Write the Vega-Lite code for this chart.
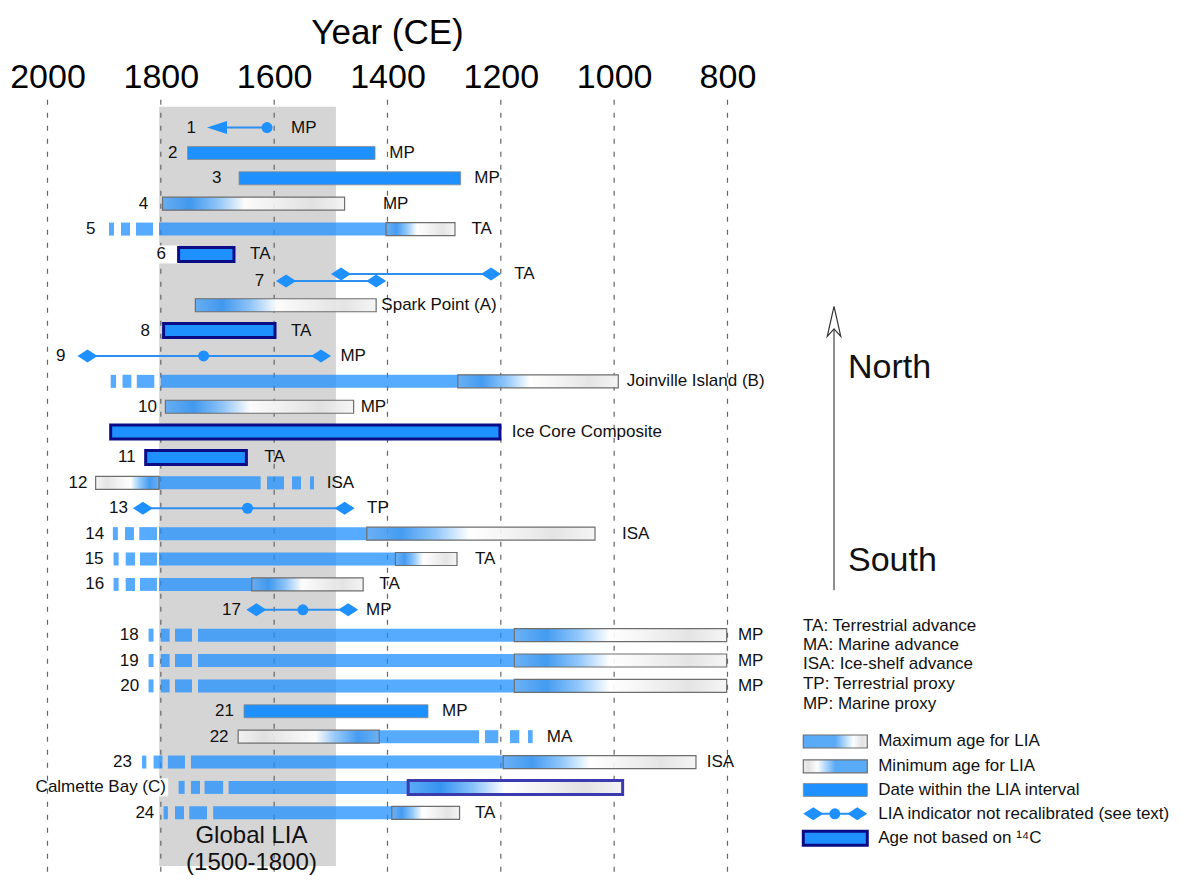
{
  "$schema": "https://vega.github.io/schema/vega-lite/v6.json",
  "width": 1182,
  "height": 882,
  "autosize": "none",
  "padding": 0,
  "background": "white",
  "config": {
    "view": {"stroke": null},
    "font": "Liberation Sans",
    "text": {"font": "Liberation Sans", "color": "#111111"}
  },
  "datasets": {
    "lia": [{"x1": 1803, "x2": 1491, "r": -0.82, "r2": 29.1, "label": "Global LIA (1500-1800)"}],
    "grid": [
      {"x1": 2000, "r": -1.1, "r2": 29.35}, {"x1": 1800, "r": -1.1, "r2": 29.35}, {"x1": 1600, "r": -1.1, "r2": 29.35},
      {"x1": 1400, "r": -1.1, "r2": 29.35}, {"x1": 1200, "r": -1.1, "r2": 29.35}, {"x1": 1000, "r": -1.1, "r2": 29.35},
      {"x1": 800, "r": -1.1, "r2": 29.35}
    ],
    "compass": [{"x1": 612, "r": 7.95, "r2": 18.23, "head": 7.64}],
    "labelbg": [{"r": 5, "x1": 1805, "x2": 1768}, {"r": 26, "x1": 1803, "x2": 1787}],
    "segs": [
      {"kind": "date", "r": 1, "x1": 1752.9, "x2": 1422},
      {"kind": "date", "r": 2, "x1": 1662, "x2": 1270.8},
      {"kind": "max", "r": 3, "x1": 1797, "x2": 1475.7},
      {"kind": "light", "r": 4, "x1": 1891.4, "x2": 1882.6},
      {"kind": "light", "r": 4, "x1": 1870.3, "x2": 1854.4},
      {"kind": "light", "r": 4, "x1": 1843.8, "x2": 1813.8},
      {"kind": "light", "r": 4, "x1": 1803.2, "x2": 1402.6},
      {"kind": "max", "r": 4, "x1": 1402.6, "x2": 1280.9},
      {"kind": "navy", "r": 5, "x1": 1768.6, "x2": 1670.9},
      {"kind": "max", "r": 7, "x1": 1739, "x2": 1420},
      {"kind": "navy", "r": 8, "x1": 1795.1, "x2": 1598.5},
      {"kind": "light", "r": 10, "x1": 1888.5, "x2": 1879},
      {"kind": "light", "r": 10, "x1": 1867.6, "x2": 1852},
      {"kind": "light", "r": 10, "x1": 1842.4, "x2": 1811.5},
      {"kind": "light", "r": 10, "x1": 1800.2, "x2": 1275.8},
      {"kind": "max", "r": 10, "x1": 1275.8, "x2": 992.7},
      {"kind": "max", "r": 11, "x1": 1791.9, "x2": 1459.8},
      {"kind": "navy", "r": 12, "x1": 1888.5, "x2": 1201.5},
      {"kind": "navy", "r": 13, "x1": 1826.7, "x2": 1649},
      {"kind": "min", "r": 14, "x1": 1915, "x2": 1803.2},
      {"kind": "light", "r": 14, "x1": 1803.2, "x2": 1623.8},
      {"kind": "light", "r": 14, "x1": 1612.6, "x2": 1582.6},
      {"kind": "light", "r": 14, "x1": 1568.5, "x2": 1552.6},
      {"kind": "light", "r": 14, "x1": 1536.8, "x2": 1529.7},
      {"kind": "light", "r": 16, "x1": 1884.6, "x2": 1875.8},
      {"kind": "light", "r": 16, "x1": 1863.2, "x2": 1847.4},
      {"kind": "light", "r": 16, "x1": 1838, "x2": 1806.8},
      {"kind": "light", "r": 16, "x1": 1803.2, "x2": 1436.5},
      {"kind": "max", "r": 16, "x1": 1436.5, "x2": 1033.8},
      {"kind": "light", "r": 17, "x1": 1883.4, "x2": 1874.5},
      {"kind": "light", "r": 17, "x1": 1862, "x2": 1845.6},
      {"kind": "light", "r": 17, "x1": 1836.8, "x2": 1806.8},
      {"kind": "light", "r": 17, "x1": 1803.2, "x2": 1386},
      {"kind": "max", "r": 17, "x1": 1386, "x2": 1277.3},
      {"kind": "light", "r": 18, "x1": 1883.4, "x2": 1874.5},
      {"kind": "light", "r": 18, "x1": 1862, "x2": 1845.6},
      {"kind": "light", "r": 18, "x1": 1836.8, "x2": 1806.8},
      {"kind": "light", "r": 18, "x1": 1803.2, "x2": 1639.5},
      {"kind": "max", "r": 18, "x1": 1639.5, "x2": 1442.9},
      {"kind": "light", "r": 20, "x1": 1821.6, "x2": 1812.8},
      {"kind": "light", "r": 20, "x1": 1800.2, "x2": 1784.5},
      {"kind": "light", "r": 20, "x1": 1775, "x2": 1745},
      {"kind": "light", "r": 20, "x1": 1734.4, "x2": 1176.2},
      {"kind": "max", "r": 20, "x1": 1176.2, "x2": 801.4},
      {"kind": "light", "r": 21, "x1": 1821.6, "x2": 1812.8},
      {"kind": "light", "r": 21, "x1": 1800.2, "x2": 1784.5},
      {"kind": "light", "r": 21, "x1": 1775, "x2": 1745},
      {"kind": "light", "r": 21, "x1": 1734.4, "x2": 1176.2},
      {"kind": "max", "r": 21, "x1": 1176.2, "x2": 801.4},
      {"kind": "light", "r": 22, "x1": 1821.6, "x2": 1812.8},
      {"kind": "light", "r": 22, "x1": 1800.2, "x2": 1784.5},
      {"kind": "light", "r": 22, "x1": 1775, "x2": 1745},
      {"kind": "light", "r": 22, "x1": 1734.4, "x2": 1176.2},
      {"kind": "max", "r": 22, "x1": 1176.2, "x2": 801.4},
      {"kind": "date", "r": 23, "x1": 1653.2, "x2": 1328.5},
      {"kind": "min", "r": 24, "x1": 1663.5, "x2": 1414.5},
      {"kind": "light", "r": 24, "x1": 1414.5, "x2": 1238.5},
      {"kind": "light", "r": 24, "x1": 1228, "x2": 1204.5},
      {"kind": "light", "r": 24, "x1": 1183.8, "x2": 1167.4},
      {"kind": "light", "r": 24, "x1": 1152, "x2": 1143.8},
      {"kind": "light", "r": 25, "x1": 1833.2, "x2": 1825.5},
      {"kind": "light", "r": 25, "x1": 1812.8, "x2": 1797},
      {"kind": "light", "r": 25, "x1": 1787.5, "x2": 1757.4},
      {"kind": "light", "r": 25, "x1": 1746.8, "x2": 1195.7},
      {"kind": "max", "r": 25, "x1": 1195.7, "x2": 855.6},
      {"kind": "light", "r": 26, "x1": 1768.6, "x2": 1758},
      {"kind": "light", "r": 26, "x1": 1746.8, "x2": 1730.9},
      {"kind": "light", "r": 26, "x1": 1722.8, "x2": 1690},
      {"kind": "light", "r": 26, "x1": 1680.4, "x2": 1363.5},
      {"kind": "maxnavy", "r": 26, "x1": 1363.5, "x2": 985},
      {"kind": "light", "r": 27, "x1": 1795.1, "x2": 1787.5},
      {"kind": "light", "r": 27, "x1": 1775, "x2": 1759.1},
      {"kind": "light", "r": 27, "x1": 1749.8, "x2": 1718.5},
      {"kind": "light", "r": 27, "x1": 1707.6, "x2": 1392.4},
      {"kind": "max", "r": 27, "x1": 1392.4, "x2": 1272.8},
      {"kind": "lgmax", "r": 24.19, "x1": 666.2, "x2": 553.3},
      {"kind": "lgmin", "r": 25.17, "x1": 666.2, "x2": 553.3},
      {"kind": "date", "r": 26.1, "x1": 666.2, "x2": 553.3},
      {"kind": "navy", "r": 28.0, "x1": 666.2, "x2": 553.3}
    ],
    "lines": [
      {"r": 0, "x1": 1612.6, "x2": 1702},
      {"r": 5.77, "x1": 1482, "x2": 1217.3},
      {"r": 6.05, "x1": 1579, "x2": 1420},
      {"r": 9, "x1": 1929.4, "x2": 1517.3},
      {"r": 15, "x1": 1831.6, "x2": 1475.7},
      {"r": 19, "x1": 1631.3, "x2": 1469.4},
      {"r": 27.04, "x1": 648.6, "x2": 571}
    ],
    "pts": [
      {"type": "mid", "r": 0, "x1": 1612.6},
      {"type": "arrow", "r": 0, "x1": 1700.9},
      {"type": "end", "r": 5.77, "x1": 1482},
      {"type": "end", "r": 5.77, "x1": 1217.3},
      {"type": "end", "r": 6.05, "x1": 1579},
      {"type": "end", "r": 6.05, "x1": 1420},
      {"type": "end", "r": 9, "x1": 1929.4},
      {"type": "end", "r": 9, "x1": 1517.3},
      {"type": "mid", "r": 9, "x1": 1724.5},
      {"type": "end", "r": 15, "x1": 1831.6},
      {"type": "end", "r": 15, "x1": 1475.7},
      {"type": "mid", "r": 15, "x1": 1647},
      {"type": "end", "r": 19, "x1": 1631.3},
      {"type": "end", "r": 19, "x1": 1469.4},
      {"type": "mid", "r": 19, "x1": 1549.3},
      {"type": "end", "r": 27.04, "x1": 648.6},
      {"type": "end", "r": 27.04, "x1": 571},
      {"type": "mid", "r": 27.04, "x1": 610.6}
    ],
    "labels": [
      {"side": "L", "r": 0, "x1": 1738, "text": "1"},
      {"side": "L", "r": 1, "x1": 1770.6, "text": "2"},
      {"side": "L", "r": 2, "x1": 1693, "text": "3"},
      {"side": "L", "r": 3, "x1": 1822.3, "text": "4"},
      {"side": "L", "r": 4, "x1": 1915.5, "text": "5"},
      {"side": "L", "r": 5, "x1": 1791, "text": "6"},
      {"side": "L", "r": 6.05, "x1": 1617.4, "text": "7"},
      {"side": "L", "r": 8, "x1": 1819, "text": "8"},
      {"side": "L", "r": 9, "x1": 1968.4, "text": "9"},
      {"side": "L", "r": 11, "x1": 1806.8, "text": "10"},
      {"side": "L", "r": 13, "x1": 1844.4, "text": "11"},
      {"side": "L", "r": 14, "x1": 1929.4, "text": "12"},
      {"side": "L", "r": 15, "x1": 1858.1, "text": "13"},
      {"side": "L", "r": 16, "x1": 1899.8, "text": "14"},
      {"side": "L", "r": 17, "x1": 1901, "text": "15"},
      {"side": "L", "r": 18, "x1": 1899.8, "text": "16"},
      {"side": "L", "r": 19, "x1": 1658.5, "text": "17"},
      {"side": "L", "r": 20, "x1": 1839.2, "text": "18"},
      {"side": "L", "r": 21, "x1": 1839.2, "text": "19"},
      {"side": "L", "r": 22, "x1": 1838, "text": "20"},
      {"side": "L", "r": 23, "x1": 1670.9, "text": "21"},
      {"side": "L", "r": 24, "x1": 1680.4, "text": "22"},
      {"side": "L", "r": 25, "x1": 1850.9, "text": "23"},
      {"side": "L", "r": 26, "x1": 1790.9, "text": "Calmette Bay (C)"},
      {"side": "L", "r": 27, "x1": 1811.5, "text": "24"},
      {"side": "R", "r": 0, "x1": 1570.3, "text": "MP"},
      {"side": "R", "r": 1, "x1": 1396.8, "text": "MP"},
      {"side": "R", "r": 2, "x1": 1246.8, "text": "MP"},
      {"side": "R", "r": 3, "x1": 1408, "text": "MP"},
      {"side": "R", "r": 4, "x1": 1251.9, "text": "TA"},
      {"side": "R", "r": 5, "x1": 1642.6, "text": "TA"},
      {"side": "R", "r": 5.77, "x1": 1176.3, "text": "TA"},
      {"side": "R", "r": 7, "x1": 1410.8, "text": "Spark Point (A)"},
      {"side": "R", "r": 8, "x1": 1570.3, "text": "TA"},
      {"side": "R", "r": 9, "x1": 1483.1, "text": "MP"},
      {"side": "R", "r": 10, "x1": 977.9, "text": "Joinville Island (B)"},
      {"side": "R", "r": 11, "x1": 1447.3, "text": "MP"},
      {"side": "R", "r": 12, "x1": 1180.8, "text": "Ice Core Composite"},
      {"side": "R", "r": 13, "x1": 1617.4, "text": "TA"},
      {"side": "R", "r": 14, "x1": 1507.1, "text": "ISA"},
      {"side": "R", "r": 15, "x1": 1436, "text": "TP"},
      {"side": "R", "r": 16, "x1": 986.2, "text": "ISA"},
      {"side": "R", "r": 17, "x1": 1245.6, "text": "TA"},
      {"side": "R", "r": 18, "x1": 1414.5, "text": "TA"},
      {"side": "R", "r": 19, "x1": 1437.9, "text": "MP"},
      {"side": "R", "r": 20, "x1": 781.5, "text": "MP"},
      {"side": "R", "r": 21, "x1": 781.5, "text": "MP"},
      {"side": "R", "r": 22, "x1": 781.5, "text": "MP"},
      {"side": "R", "r": 23, "x1": 1303.6, "text": "MP"},
      {"side": "R", "r": 24, "x1": 1119, "text": "MA"},
      {"side": "R", "r": 25, "x1": 836.7, "text": "ISA"},
      {"side": "R", "r": 27, "x1": 1245.6, "text": "TA"}
    ],
    "notes": [
      {"role": "legend", "r": 19.63, "x1": 666.8, "text": "TA: Terrestrial advance"},
      {"role": "legend", "r": 20.37, "x1": 666.8, "text": "MA: Marine advance"},
      {"role": "legend", "r": 21.15, "x1": 666.8, "text": "ISA: Ice-shelf advance"},
      {"role": "legend", "r": 21.93, "x1": 666.8, "text": "TP: Terrestrial proxy"},
      {"role": "legend", "r": 22.71, "x1": 666.8, "text": "MP: Marine proxy"},
      {"role": "legend", "r": 24.19, "x1": 534, "text": "Maximum age for LIA"},
      {"role": "legend", "r": 25.17, "x1": 534, "text": "Minimum age for LIA"},
      {"role": "legend", "r": 26.1, "x1": 534, "text": "Date within the LIA interval"},
      {"role": "legend", "r": 27.04, "x1": 534, "text": "LIA indicator not recalibrated (see text)"},
      {"role": "legend", "r": 28.0, "x1": 534, "text": "Age not based on ¹⁴C"},
      {"role": "compass", "r": 9.47, "x1": 587.4, "text": "North"},
      {"role": "compass", "r": 17.06, "x1": 587.4, "text": "South"},
      {"role": "lia", "r": 27.92, "x1": 1640, "text": "Global LIA"},
      {"role": "lia", "r": 28.96, "x1": 1640, "text": "(1500-1800)"}
    ]
  },
  "encoding": {
    "x": {
      "field": "x1",
      "type": "quantitative",
      "scale": {"domain": [-2.1, 2083.8], "reverse": true, "zero": false, "nice": false},
      "axis": {
        "orient": "top",
        "values": [2000, 1800, 1600, 1400, 1200, 1000, 800],
        "format": "d",
        "offset": -94,
        "domain": false,
        "ticks": false,
        "tickSize": 0,
        "grid": false,
        "labelPadding": 0,
        "labelFontSize": 34,
        "labelFont": "Liberation Sans",
        "labelColor": "#000000",
        "labelFlush": false,
        "labelOverlap": false,
        "title": "Year (CE)",
        "titleFont": "Liberation Sans",
        "titleFontSize": 35,
        "titleFontWeight": "normal",
        "titleColor": "#000000",
        "titlePadding": 10,
        "titleX": 387
      }
    },
    "y": {
      "field": "r",
      "type": "quantitative",
      "scale": {"domain": [-4.83, 29.53], "reverse": true, "zero": false, "nice": false},
      "axis": null
    }
  },
  "layer": [
    {
      "data": {"name": "lia"},
      "mark": {"type": "rect", "fill": "#d5d5d5"},
      "encoding": {"x2": {"field": "x2"}, "y2": {"field": "r2"}}
    },
    {
      "data": {"name": "grid"},
      "mark": {"type": "rule", "stroke": "#666666", "strokeWidth": 1.2, "strokeDash": [5, 8]},
      "encoding": {"y2": {"field": "r2"}}
    },
    {
      "data": {"name": "labelbg"},
      "mark": {"type": "bar", "orient": "horizontal", "fill": "white", "size": 18},
      "encoding": {"x2": {"field": "x2"}}
    },
    {
      "data": {"name": "segs"},
      "transform": [{"filter": "datum.kind === 'light'"}],
      "mark": {"type": "bar", "orient": "horizontal", "fill": "#1e8fff", "fillOpacity": 0.75, "size": 13},
      "encoding": {"x2": {"field": "x2"}}
    },
    {
      "data": {"name": "segs"},
      "transform": [{"filter": "datum.kind === 'date'"}],
      "mark": {"type": "bar", "orient": "horizontal", "fill": "#1e90ff", "stroke": "#8a8a8a", "strokeWidth": 0.8, "size": 13},
      "encoding": {"x2": {"field": "x2"}}
    },
    {
      "data": {"name": "segs"},
      "transform": [{"filter": "datum.kind === 'max'"}],
      "mark": {
        "type": "bar", "orient": "horizontal", "size": 13, "stroke": "#6e6e6e", "strokeWidth": 1.2, "fillOpacity": 0.92,
        "fill": {"gradient": "linear", "x1": 0, "y1": 0, "x2": 1, "y2": 0,
          "stops": [
            {"offset": 0, "color": "#5eaaf5"},
            {"offset": 0.15, "color": "#3593f0"},
            {"offset": 0.3, "color": "#86c2fa"},
            {"offset": 0.45, "color": "#ffffff"},
            {"offset": 0.6, "color": "#f4f4f4"},
            {"offset": 0.82, "color": "#e2e2e2"},
            {"offset": 1, "color": "#f4f4f4"}
          ]}
      },
      "encoding": {"x2": {"field": "x2"}}
    },
    {
      "data": {"name": "segs"},
      "transform": [{"filter": "datum.kind === 'min'"}],
      "mark": {
        "type": "bar", "orient": "horizontal", "size": 13, "stroke": "#6e6e6e", "strokeWidth": 1.2, "fillOpacity": 0.92,
        "fill": {"gradient": "linear", "x1": 0, "y1": 0, "x2": 1, "y2": 0,
          "stops": [
            {"offset": 0, "color": "#f4f4f4"},
            {"offset": 0.18, "color": "#e2e2e2"},
            {"offset": 0.4, "color": "#f4f4f4"},
            {"offset": 0.55, "color": "#ffffff"},
            {"offset": 0.7, "color": "#86c2fa"},
            {"offset": 0.85, "color": "#3593f0"},
            {"offset": 1, "color": "#5eaaf5"}
          ]}
      },
      "encoding": {"x2": {"field": "x2"}}
    },
    {
      "data": {"name": "segs"},
      "transform": [{"filter": "datum.kind === 'navy'"}],
      "mark": {"type": "bar", "orient": "horizontal", "fill": "#1e90ff", "stroke": "#0b0b86", "strokeWidth": 3, "size": 14},
      "encoding": {"x2": {"field": "x2"}}
    },
    {
      "data": {"name": "segs"},
      "transform": [{"filter": "datum.kind === 'maxnavy'"}],
      "mark": {
        "type": "bar", "orient": "horizontal", "size": 14, "stroke": "#3b3bb0", "strokeWidth": 3,
        "fill": {"gradient": "linear", "x1": 0, "y1": 0, "x2": 1, "y2": 0,
          "stops": [
            {"offset": 0, "color": "#5eaaf5"},
            {"offset": 0.15, "color": "#3593f0"},
            {"offset": 0.3, "color": "#86c2fa"},
            {"offset": 0.45, "color": "#ffffff"},
            {"offset": 0.6, "color": "#f4f4f4"},
            {"offset": 0.82, "color": "#e2e2e2"},
            {"offset": 1, "color": "#f4f4f4"}
          ]}
      },
      "encoding": {"x2": {"field": "x2"}}
    },
    {
      "data": {"name": "segs"},
      "transform": [{"filter": "datum.kind === 'lgmax'"}],
      "mark": {
        "type": "bar", "orient": "horizontal", "size": 13, "stroke": "#6e6e6e", "strokeWidth": 1.2,
        "fill": {"gradient": "linear", "x1": 0, "y1": 0, "x2": 1, "y2": 0,
          "stops": [
            {"offset": 0, "color": "#5aabf7"},
            {"offset": 0.5, "color": "#5aabf7"},
            {"offset": 0.78, "color": "#fbfdff"},
            {"offset": 0.92, "color": "#e2e2e2"},
            {"offset": 1, "color": "#eeeeee"}
          ]}
      },
      "encoding": {"x2": {"field": "x2"}}
    },
    {
      "data": {"name": "segs"},
      "transform": [{"filter": "datum.kind === 'lgmin'"}],
      "mark": {
        "type": "bar", "orient": "horizontal", "size": 13, "stroke": "#6e6e6e", "strokeWidth": 1.2,
        "fill": {"gradient": "linear", "x1": 0, "y1": 0, "x2": 1, "y2": 0,
          "stops": [
            {"offset": 0, "color": "#eeeeee"},
            {"offset": 0.08, "color": "#e2e2e2"},
            {"offset": 0.22, "color": "#fbfdff"},
            {"offset": 0.5, "color": "#5aabf7"},
            {"offset": 1, "color": "#5aabf7"}
          ]}
      },
      "encoding": {"x2": {"field": "x2"}}
    },
    {
      "data": {"name": "lines"},
      "mark": {"type": "rule", "stroke": "#2b8ff0", "strokeWidth": 2},
      "encoding": {"x2": {"field": "x2"}}
    },
    {
      "data": {"name": "pts"},
      "transform": [{"filter": "datum.type === 'end'"}],
      "mark": {"type": "point", "filled": true, "shape": "M-1,0L0,-0.65L1,0L0,0.65Z", "size": 400, "fill": "#1e90ff", "opacity": 1}
    },
    {
      "data": {"name": "pts"},
      "transform": [{"filter": "datum.type === 'mid'"}],
      "mark": {"type": "point", "filled": true, "shape": "circle", "size": 121, "fill": "#1e90ff", "opacity": 1}
    },
    {
      "data": {"name": "pts"},
      "transform": [{"filter": "datum.type === 'arrow'"}],
      "mark": {"type": "point", "filled": true, "shape": "M-1,0L1,-0.65L1,0.65Z", "size": 400, "fill": "#1e90ff", "opacity": 1}
    },
    {
      "data": {"name": "labels"},
      "transform": [{"filter": "datum.side === 'L'"}],
      "mark": {"type": "text", "align": "right", "baseline": "middle", "fontSize": 17},
      "encoding": {"text": {"field": "text"}}
    },
    {
      "data": {"name": "labels"},
      "transform": [{"filter": "datum.side === 'R'"}],
      "mark": {"type": "text", "align": "left", "baseline": "middle", "fontSize": 17},
      "encoding": {"text": {"field": "text"}}
    },
    {
      "data": {"name": "notes"},
      "transform": [{"filter": "datum.role === 'legend'"}],
      "mark": {"type": "text", "align": "left", "baseline": "middle", "fontSize": 17},
      "encoding": {"text": {"field": "text"}}
    },
    {
      "data": {"name": "notes"},
      "transform": [{"filter": "datum.role === 'compass'"}],
      "mark": {"type": "text", "align": "left", "baseline": "middle", "fontSize": 34},
      "encoding": {"text": {"field": "text"}}
    },
    {
      "data": {"name": "notes"},
      "transform": [{"filter": "datum.role === 'lia'"}],
      "mark": {"type": "text", "align": "center", "baseline": "middle", "fontSize": 24},
      "encoding": {"text": {"field": "text"}}
    },
    {
      "data": {"name": "compass"},
      "mark": {"type": "rule", "stroke": "#444444", "strokeWidth": 1.2},
      "encoding": {"y2": {"field": "r2"}}
    },
    {
      "data": {"name": "compass"},
      "mark": {"type": "point", "shape": "M0,-1L0.45,1L0,0.5L-0.45,1Z", "size": 900, "filled": true, "fill": "white", "stroke": "#333333", "strokeWidth": 1.2, "opacity": 1},
      "encoding": {"y": {"field": "head", "type": "quantitative", "scale": {"domain": [-4.83, 29.53], "reverse": true, "zero": false, "nice": false}, "axis": null}}
    }
  ]
}
